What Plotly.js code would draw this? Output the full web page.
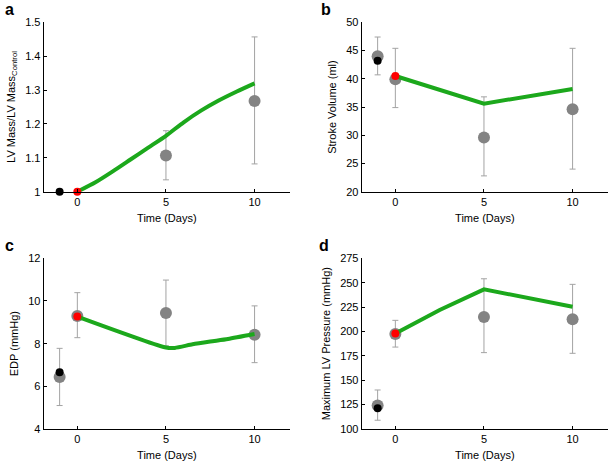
<!DOCTYPE html>
<html>
<head>
<meta charset="utf-8">
<script src="https://cdn.plot.ly/plotly-3.0.1.min.js"></script>
<style>
  html, body { margin: 0; padding: 0; background: #fff; }
  #chart { width: 609px; height: 461px; }
</style>
</head>
<body>
<div id="chart"></div>
<script>
// observed days (pre-op at -1)
const obsDays = [-1, 0, 5, 10];

// a: LV mass ratio
const massObsDays = [5, 10];
const massObs = [1.107, 1.268];
const massObsHi = [1.18, 1.457];
const massObsLo = [1.035, 1.082];
const massModelDays = [0, 1, 2, 3, 4, 5, 6, 7, 8, 9, 10];
const massModel = [1.0, 1.027, 1.06, 1.095, 1.13, 1.165, 1.205, 1.24, 1.27, 1.296, 1.32];
const massBase = 1.0;
const massStart = 1.0;

// b: stroke volume
const svObs = [44.0, 39.9, 29.6, 34.6];
const svObsHi = [47.4, 45.4, 36.8, 45.4];
const svObsLo = [40.7, 34.9, 22.8, 24.0];
const svModelDays = [0, 5, 10];
const svModel = [40.5, 35.6, 38.2];
const svBase = 43.2;

// c: EDP
const edpObs = [6.44, 9.3, 9.44, 8.42];
const edpObsHi = [7.78, 10.39, 10.98, 9.77];
const edpObsLo = [5.1, 8.28, 7.9, 7.11];
const edpModelDays = [0, 5, 5.5, 6.5, 7.5, 8.5, 10];
const edpModel = [9.27, 7.82, 7.8, 7.97, 8.1, 8.22, 8.45];
const edpBase = 6.66;

// d: max LV pressure
const pObs = [124, 197.4, 214.8, 212.4];
const pObsHi = [140, 211.4, 254, 248.3];
const pObsLo = [109, 184, 178.3, 177.6];
const pModelDays = [0, 2.5, 5, 10];
const pModel = [198, 222, 243.2, 225.4];
const pBase = 121.3;

const GRAY = '#838383';
const BAR = '#a3a3a3';
const GREEN = '#1ca81c';
const FONT = 'Liberation Sans, Arial, sans-serif';

function obsTrace(x, y, hi, lo, xa, ya) {
  return {
    x: x, y: y, xaxis: xa, yaxis: ya, type: 'scatter', mode: 'markers',
    marker: { color: GRAY, size: 12 },
    error_y: {
      type: 'data', symmetric: false,
      array: y.map((v, i) => hi[i] - v),
      arrayminus: y.map((v, i) => v - lo[i]),
      color: BAR, thickness: 1, width: 3
    },
    cliponaxis: false, showlegend: false
  };
}
function modelTrace(x, y, xa, ya, shape) {
  return {
    x: x, y: y, xaxis: xa, yaxis: ya, type: 'scatter', mode: 'lines',
    line: { color: GREEN, width: 4, shape: shape || 'linear', smoothing: 0.6 },
    cliponaxis: false, showlegend: false
  };
}
function dotTrace(x, y, color, xa, ya) {
  return {
    x: [x], y: [y], xaxis: xa, yaxis: ya, type: 'scatter', mode: 'markers',
    marker: { color: color, size: 8 },
    cliponaxis: false, showlegend: false
  };
}

const data = [
  obsTrace(massObsDays, massObs, massObsHi, massObsLo, 'x', 'y'),
  modelTrace(massModelDays, massModel, 'x', 'y', 'spline'),
  dotTrace(-1, massBase, '#000000', 'x', 'y'),
  dotTrace(0, massStart, '#ff0000', 'x', 'y'),

  obsTrace(obsDays, svObs, svObsHi, svObsLo, 'x2', 'y2'),
  modelTrace(svModelDays, svModel, 'x2', 'y2'),
  dotTrace(-1, svBase, '#000000', 'x2', 'y2'),
  dotTrace(0, svModel[0], '#ff0000', 'x2', 'y2'),

  obsTrace(obsDays, edpObs, edpObsHi, edpObsLo, 'x3', 'y3'),
  modelTrace(edpModelDays, edpModel, 'x3', 'y3', 'spline'),
  dotTrace(-1, edpBase, '#000000', 'x3', 'y3'),
  dotTrace(0, edpModel[0], '#ff0000', 'x3', 'y3'),

  obsTrace(obsDays, pObs, pObsHi, pObsLo, 'x4', 'y4'),
  modelTrace(pModelDays, pModel, 'x4', 'y4'),
  dotTrace(-1, pBase, '#000000', 'x4', 'y4'),
  dotTrace(0, pModel[0], '#ff0000', 'x4', 'y4')
];

const tickFont = { family: FONT, size: 11, color: '#000' };
function xAx(domain, anchor) {
  return {
    domain: domain, anchor: anchor, range: [-1.9, 12],
    tickvals: [0, 5, 10], ticks: 'inside', ticklen: 3, tickcolor: '#000',
    showline: true, linecolor: '#000', linewidth: 1,
    showgrid: false, zeroline: false, tickfont: tickFont,
    title: { text: 'Time (Days)', font: tickFont, standoff: 7 }
  };
}
function yAx(domain, anchor, range, dtick, title) {
  return {
    domain: domain, anchor: anchor, range: range, dtick: dtick,
    ticks: 'inside', ticklen: 3, tickcolor: '#000',
    showline: true, linecolor: '#000', linewidth: 1,
    showgrid: false, zeroline: false, tickfont: tickFont,
    title: { text: title, font: tickFont, standoff: 7 }
  };
}

const leftX = [0.0717, 0.4762];
const rightX = [0.5939, 0.9984];
const topY = [0.5842, 0.9515];
const botY = [0.0694, 0.4397];

const layout = {
  width: 609, height: 461,
  margin: { l: 0, r: 0, t: 0, b: 0 },
  paper_bgcolor: '#fff', plot_bgcolor: '#fff',
  font: { family: FONT, size: 11, color: '#000' },
  showlegend: false,
  xaxis: xAx(leftX, 'y'),
  yaxis: yAx(topY, 'x', [1, 1.5], 0.1, 'LV Mass/LV Mass<sub>Control</sub>'),
  xaxis2: xAx(rightX, 'y2'),
  yaxis2: yAx(topY, 'x2', [20, 50], 5, 'Stroke Volume (ml)'),
  xaxis3: xAx(leftX, 'y3'),
  yaxis3: yAx(botY, 'x3', [4, 12], 2, 'EDP (mmHg)'),
  xaxis4: xAx(rightX, 'y4'),
  yaxis4: yAx(botY, 'x4', [100, 275], 25, 'Maximum LV Pressure (mmHg)'),
  annotations: [
    ['a', 9, 10], ['b', 326, 10], ['c', 9, 245], ['d', 324, 245]
  ].map(([t, px, py]) => ({
    text: '<b>' + t + '</b>', xref: 'paper', yref: 'paper',
    x: px / 609, y: 1 - py / 461, xanchor: 'center', yanchor: 'middle',
    showarrow: false, font: { family: FONT, size: 16, color: '#000' }
  }))
};

Plotly.newPlot('chart', data, layout, { displayModeBar: false, staticPlot: true });
</script>
</body>
</html>
